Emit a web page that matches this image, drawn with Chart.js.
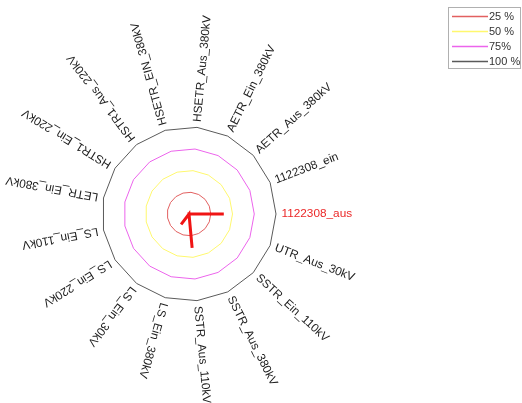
<!DOCTYPE html>
<html>
<head>
<meta charset="utf-8">
<script src="https://cdn.jsdelivr.net/npm/chart.js@4/dist/chart.umd.min.js"></script>
<style>
  html, body { margin: 0; padding: 0; background: #fff; overflow: hidden; }
  #wrap { width: 522px; height: 403px; position: relative; }
</style>
</head>
<body>
<div id="wrap"><canvas id="c" width="522" height="403"></canvas></div>
<script>
// Categories in alphabetical order, placed counter-clockwise starting at the right.
const categories = [
  '1122308_aus', '1122308_ein', 'AETR_Aus_380kV', 'AETR_Ein_380kV',
  'HSETR_Aus_380kV', 'HSETR_EIN_380kV', 'HSTR1_Aus_220kV', 'HSTR1_Ein_220kV',
  'LETR_Ein_380kV', 'LS_Ein_110kV', 'LS_Ein_220kV', 'LS_Ein_30kV',
  'LS_Ein_380kV', 'SSTR_Aus_110kV', 'SSTR_Aus_380kV', 'SSTR_Ein_110kV',
  'UTR_Aus_30kV'
];
// Share per category (percent)
const values = [40, 0, 0, 0, 0, 0, 0, 0, 0, 0, 0, 15, 0, 39, 0, 0, 0];
// Reference rings
const ringLevels = [25, 50, 75, 100];
const ringLabels = ['25 %', '50 %', '75%', '100 %'];
const ringColors = ['rgb(226,96,96)', 'rgb(255,248,110)', 'rgb(236,100,236)', 'rgb(90,90,90)'];
const highlighted = '1122308_aus';

// Chart.js walks clockwise, so keep the first item and reverse the rest.
const ccw = arr => [arr[0]].concat(arr.slice(1).reverse());
const chartLabels = ccw(categories);
const chartValues = ccw(values);

const datasets = [{
  label: '',
  data: chartValues,
  borderColor: 'rgb(240,20,20)',
  borderWidth: 3,
  pointRadius: 0,
  fill: false,
  clip: false
}];
ringLevels.forEach((lvl, i) => {
  datasets.push({
    label: ringLabels[i],
    data: chartLabels.map(() => lvl),
    borderColor: ringColors[i],
    borderWidth: 1,
    pointRadius: 0,
    fill: false,
    clip: false
  });
});

// Radial category labels, rotated along their spoke.
const spokeLabels = {
  id: 'spokeLabels',
  afterDatasetsDraw(chart) {
    const scale = chart.scales.r;
    const ctx = chart.ctx;
    const r0 = scale.drawingArea + 5.5;
    ctx.save();
    ctx.font = '11.8px "Liberation Sans", Arial, sans-serif';
    ctx.textAlign = 'left';
    ctx.textBaseline = 'middle';
    chart.data.labels.forEach((lab, i) => {
      const a = scale.getIndexAngle(i) - Math.PI / 2;
      ctx.save();
      ctx.translate(scale.xCenter, scale.yCenter);
      ctx.rotate(a);
      ctx.fillStyle = lab === highlighted ? 'rgb(235,40,40)' : '#1c1c1c';
      ctx.fillText(lab, r0, 0);
      ctx.restore();
    });
    ctx.restore();
  }
};

// Boxed legend for the reference rings.
const boxLegend = {
  id: 'boxLegend',
  afterDraw(chart) {
    const ctx = chart.ctx;
    const x = 448.5, y = 7.5, w = 72, rowH = 15;
    const h = ringLabels.length * rowH + 1;
    ctx.save();
    ctx.fillStyle = '#fff';
    ctx.fillRect(x, y, w, h);
    ctx.strokeStyle = '#b0b0b0';
    ctx.lineWidth = 1;
    ctx.strokeRect(x, y, w, h);
    ctx.font = '11px "Liberation Sans", Arial, sans-serif';
    ctx.textBaseline = 'middle';
    ctx.textAlign = 'left';
    ringLabels.forEach((lab, i) => {
      const yy = y + 9 + i * rowH;
      ctx.strokeStyle = ringColors[i];
      ctx.lineWidth = 1.3;
      ctx.beginPath();
      ctx.moveTo(452, yy);
      ctx.lineTo(488, yy);
      ctx.stroke();
      ctx.fillStyle = '#333';
      ctx.fillText(lab, 489, yy + 0.5);
    });
    ctx.restore();
  }
};

new Chart(document.getElementById('c'), {
  type: 'radar',
  data: { labels: chartLabels, datasets },
  options: {
    responsive: false,
    animation: false,
    layout: { padding: { left: 102, top: 127, right: 245, bottom: 101 } },
    elements: { line: { tension: 0 } },
    plugins: { legend: { display: false }, tooltip: { enabled: false } },
    scales: {
      r: {
        min: 0,
        max: 100,
        startAngle: 90,
        grid: { display: false },
        angleLines: { display: false },
        ticks: { display: false },
        pointLabels: { display: false }
      }
    }
  },
  plugins: [spokeLabels, boxLegend]
});
</script>
</body>
</html>
